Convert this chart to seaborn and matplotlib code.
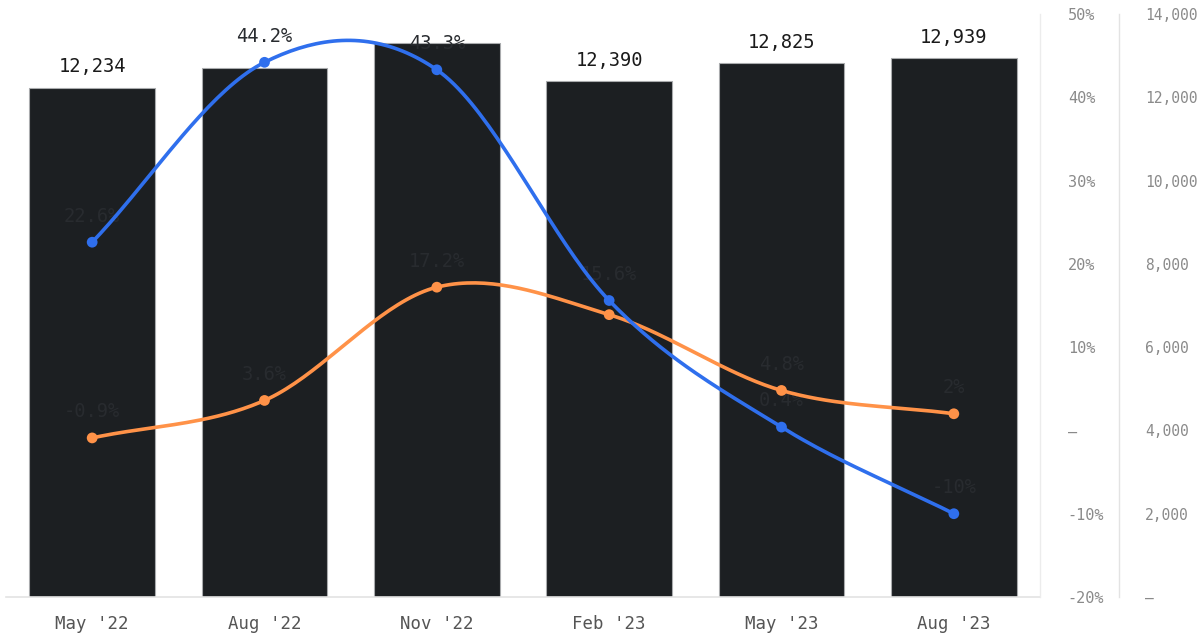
import numpy as np
import pandas as pd
import matplotlib
matplotlib.use("Agg")
import matplotlib.pyplot as plt
import seaborn as sns

# Quarterly counts with two year-over-year growth series
quarters = ["May '22", "Aug '22", "Nov '22", "Feb '23", "May '23", "Aug '23"]
counts = [12234, 12700, 13300, 12390, 12825, 12939]
growth_blue = [22.6, 44.2, 43.3, 15.6, 0.4, -10.0]
growth_orange = [-0.9, 3.6, 17.2, 13.9, 4.8, 2.0]
blue_labels = ["22.6%", "44.2%", "43.3%", "15.6%", "0.4%", "-10%"]
orange_labels = ["-0.9%", "3.6%", "17.2%", None, "4.8%", "2%"]
count_labels = ["12,234", None, None, "12,390", "12,825", "12,939"]

pct_ticks = [-20, -10, 0, 10, 20, 30, 40, 50]
count_ticks = [0, 2000, 4000, 6000, 8000, 10000, 12000, 14000]

BAR = "#1c1f22"
BLUE = "#2f6fed"
ORANGE = "#ff9248"
MONO = "DejaVu Sans Mono"

sns.set_theme(style="white")
plt.rcParams["font.family"] = [MONO, "DejaVu Sans"]


def smooth(ys, n=40):
    """Catmull-Rom curve through the points, for drawing the line only."""
    ys = np.asarray(ys, float)
    k = len(ys)
    m = np.empty(k)
    m[1:-1] = (ys[2:] - ys[:-2]) / 2
    m[0] = ys[1] - ys[0]
    m[-1] = ys[-1] - ys[-2]
    xs_out, ys_out = [], []
    for i in range(k - 1):
        t = np.linspace(0, 1, n, endpoint=(i == k - 2))
        h00 = 2 * t**3 - 3 * t**2 + 1
        h10 = t**3 - 2 * t**2 + t
        h01 = -2 * t**3 + 3 * t**2
        h11 = t**3 - t**2
        xs_out.append(i + t)
        ys_out.append(h00 * ys[i] + h10 * m[i] + h01 * ys[i + 1] + h11 * m[i + 1])
    return np.concatenate(xs_out), np.concatenate(ys_out)


W, H = 1198, 636
fig = plt.figure(figsize=(W / 100, H / 100), dpi=100)
ax = fig.add_axes([6 / W, 39 / H, (1040 - 6) / W, (597 - 14) / H])

df = pd.DataFrame({"quarter": quarters, "count": counts})
sns.barplot(data=df, x="quarter", y="count", ax=ax, color=BAR, width=0.73,
            saturation=1, edgecolor="#a9abad", linewidth=0.8)
ax.set_xlim(-0.5, len(quarters) - 0.5)
ax.set_ylim(0, 14000)
ax.set_xlabel("")
ax.set_ylabel("")
ax.grid(False)

for i, (c, lab) in enumerate(zip(counts, count_labels)):
    if lab:
        ax.annotate(lab, (i, c), xytext=(0, 8), textcoords="offset points",
                    ha="center", va="bottom", fontsize=13.5, color="#1a1a1a",
                    family=MONO)

# growth axis (twinx moves the host's ticks left, so the host is styled after)
ax2 = ax.twinx()
ax2.set_ylim(-20, 50)
ax2.set_yticks(pct_ticks)
ax2.set_yticklabels(["—" if v == 0 else f"{v}%" for v in pct_ticks])
ax2.tick_params(axis="y", length=0, pad=20, labelsize=11, labelcolor="#8a8a8a")
for lbl in ax2.get_yticklabels():
    lbl.set_horizontalalignment("left")
for s in ["top", "left", "bottom"]:
    ax2.spines[s].set_visible(False)
ax2.spines["right"].set_color("#ececec")
ax2.spines["right"].set_linewidth(1.0)
ax2.grid(False)

# count axis on the far right
ax.yaxis.tick_right()
ax.set_yticks(count_ticks)
ax.set_yticklabels(["—" if v == 0 else f"{v:,}" for v in count_ticks])
ax.tick_params(axis="y", left=False, right=True, labelleft=False,
               labelright=True, length=0, pad=18.5, labelsize=10.5,
               labelcolor="#8a8a8a")
for lbl in ax.get_yticklabels():
    lbl.set_horizontalalignment("left")
ax.tick_params(axis="x", length=0, pad=13, labelsize=12.5, labelcolor="#555555")
for s in ["top", "left"]:
    ax.spines[s].set_visible(False)
ax.spines["right"].set_visible(True)
ax.spines["right"].set_position(("outward", 57))
ax.spines["right"].set_color("#e3e3e3")
ax.spines["right"].set_linewidth(1.0)
ax.spines["bottom"].set_color("#e3e3e3")
ax.spines["bottom"].set_linewidth(1.2)

xpos = np.arange(len(quarters))
for vals, col, labels in [(growth_orange, ORANGE, orange_labels),
                          (growth_blue, BLUE, blue_labels)]:
    sx, sy = smooth(vals)
    ax2.plot(sx, sy, color=col, lw=2.6, solid_capstyle="round", zorder=3)
    sns.scatterplot(x=xpos, y=vals, ax=ax2, color=col, s=60, edgecolor="none",
                    zorder=4, legend=False)
    for i, (v, lab) in enumerate(zip(vals, labels)):
        if lab:
            ax2.annotate(lab, (i, v), xytext=(0, 12), textcoords="offset points",
                         ha="center", va="bottom", fontsize=13.5, color="#282b2f",
                         family=MONO, zorder=2)

ax2.set_xlim(-0.5, len(quarters) - 0.5)

fig.savefig("out.png", dpi=100)
